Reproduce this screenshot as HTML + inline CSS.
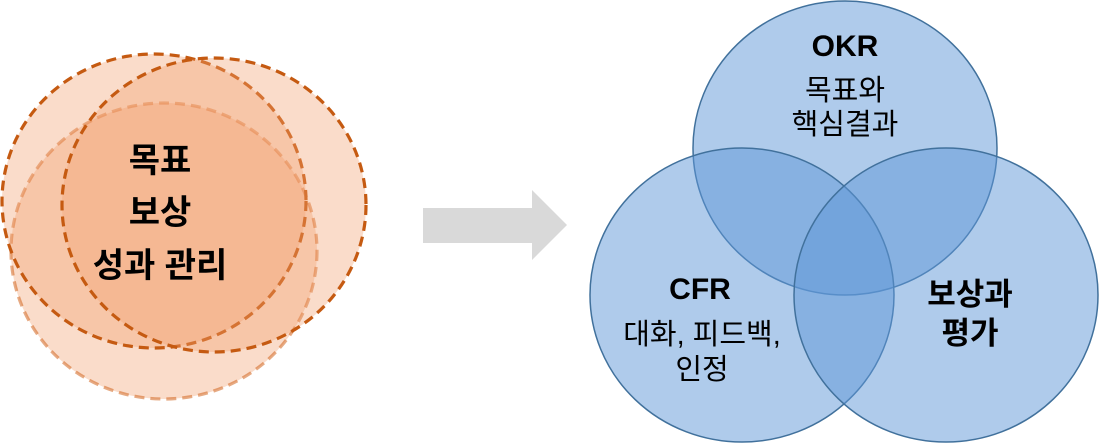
<!DOCTYPE html>
<html><head><meta charset="utf-8"><style>
html,body{margin:0;padding:0;background:#fff;}
svg{display:block}
text{font-family:"Liberation Sans","Noto Sans CJK KR",sans-serif;fill:#000;}
</style></head><body>
<svg width="1099" height="443" viewBox="0 0 1099 443">
<g fill="rgba(241,160,110,0.37)" stroke-dasharray="10,6" stroke-width="3.2">
<ellipse cx="164" cy="251" rx="153" ry="148" stroke="rgba(210,100,30,0.55)"/>
<ellipse cx="154" cy="201" rx="152" ry="147" stroke="#c55a11"/>
<ellipse cx="214" cy="205" rx="152" ry="147" stroke="#c55a11"/>
</g>
<g font-weight="bold" font-size="34" text-anchor="middle">
<text x="160" y="172">목표</text>
<text x="160" y="224">보상</text>
<text x="160" y="277">성과 관리</text>
</g>
<polygon points="423,208 532,208 532,190 567,225 532,260 532,243 423,243" fill="#d9d9d9"/>
<g fill="rgba(95,152,215,0.5)" stroke="#41719c" stroke-width="1.5">
<ellipse cx="845" cy="148" rx="152" ry="147"/>
<ellipse cx="742" cy="295" rx="152" ry="147"/>
<ellipse cx="946" cy="295" rx="152" ry="147"/>
</g>
<g text-anchor="middle">
<text x="845" y="56" font-size="30" font-weight="bold">OKR</text>
<text x="845" y="100" font-size="29">목표와</text>
<text x="845" y="134" font-size="29">핵심결과</text>
<text x="700" y="299" font-size="30" font-weight="bold">CFR</text>
<text x="702" y="344" font-size="29">대화, 피드백,</text>
<text x="702" y="379" font-size="29">인정</text>
<text x="970" y="305" font-size="31" font-weight="bold">보상과</text>
<text x="970" y="344" font-size="31" font-weight="bold">평가</text>
</g>
</svg>
</body></html>
